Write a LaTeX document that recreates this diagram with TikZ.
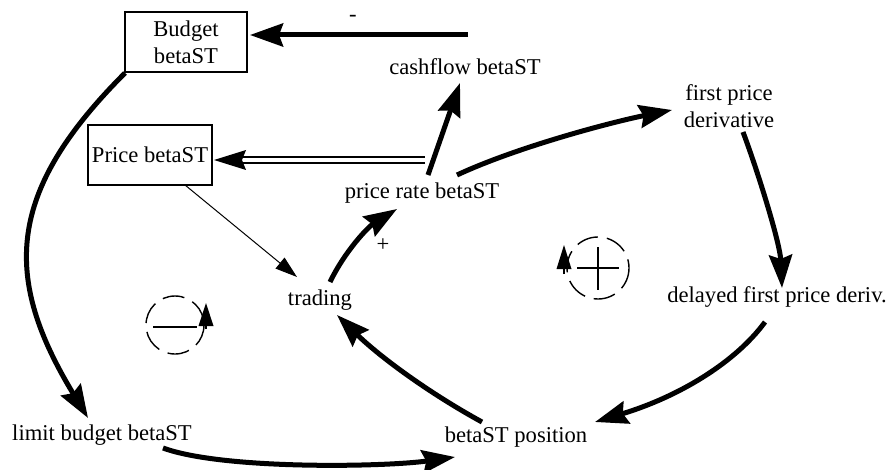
\documentclass[tikz,border=0pt]{standalone}
\usepackage{fontspec}
\setmainfont{Liberation Serif}
\usetikzlibrary{arrows.meta,calc}
\begin{document}
\begin{tikzpicture}[x=1pt,y=-1pt,
  every node/.style={font=\rmfamily\fontsize{22.6}{27}\selectfont, inner sep=0pt},
  stock/.style={draw, line width=1.4pt},
  link/.style={line width=5pt, -{Stealth[length=33pt,width=23pt,inset=4pt]}},
  thinlink/.style={line width=1pt, -{Triangle[length=22pt,width=14pt]}},
  loopline/.style={line width=1.4pt, dash pattern=on 22pt off 9pt},
  loopmark/.style={line width=2.2pt},
  looptip/.style={fill=black}
]
\useasboundingbox (0,0) rectangle (890,470);
\fill[white] (0,0) rectangle (890,470);

% variables
\node (budget) [stock, minimum width=122pt, minimum height=60pt, align=center] at (186,42) {Budget\\betaST};
\node (price) [stock, minimum width=124pt, minimum height=60pt] at (150,155) {Price betaST};
\node (cash) at (465,67) {cashflow betaST};
\node (firstd) [align=center] at (729,106) {first price\\derivative};
\node (rate) at (422,193) {price rate betaST};
\node (trading) at (320,300) {trading};
\node (delayed) at (777,297) {delayed first price deriv.};
\node (position) at (516,437) {betaST position};
\node (limit) at (102,435) {limit budget betaST};

% polarity labels
\node (minus) at (353,18) {-};
\node (plus) at (383,245) {+};

% links
\draw[link] ($(cash)+(3,-32)$) -- ($(budget)+(64,-7)$);
\draw[link] ($(rate)+(6,-18)$) -- ($(cash)+(-5,16)$);
\draw[link] ($(rate)+(35,-18)$) .. controls +(60,-28) and +(-60,12) .. ($(firstd)+(-57,4)$);
\draw[link] ($(firstd)+(14,26)$) .. controls +(15,40) and +(-2,-45) .. ($(delayed)+(5,-9)$);
\draw[link] ($(delayed)+(-12,25)$) .. controls +(-30,41) and +(83,-25) .. ($(position)+(79,-15)$);
\draw[link] ($(position)+(-34,-15)$) .. controls +(-53,-29) and +(43,42) .. ($(trading)+(17,15)$);
\draw[link] ($(trading)+(10,-18)$) .. controls +(15,-31) and +(-29,18) .. ($(rate)+(-25,16)$);
\draw[thinlink] ($(price)+(35,30)$) -- ($(trading)+(-23,-23)$);
\draw[link] ($(budget)+(-61,31)$) .. controls +(-120,120) and +(-85,-140) .. ($(limit)+(-14,-17)$);
\draw[link] ($(limit)+(61,13)$) .. controls +(60,22) and +(-70,10) .. ($(position)+(-61,20)$);

% flow (double line) from price rate to Price
\draw[line width=1.5pt, double, double distance=4.5pt] ($(rate)+(3,-33)$) -- ($(price)+(93,5)$);
\fill ($(price)+(64,5)$) -- ++(32,-10) -- ++(-4,10) -- ++(4,10) -- cycle;

% loop symbols
\coordinate (lneg) at (175,325);
\draw[loopline] (lneg) circle[radius=29];
\draw[loopmark] ($(lneg)+(-22,2)$) -- ($(lneg)+(22,2)$);
\draw[line width=1.4pt] ($(lneg)+(31,4)$) -- ($(lneg)+(31,-8)$);
\fill[looptip] ($(lneg)+(31,-22)$) -- ++(7.5,23) -- ++(-15,0) -- cycle;

\coordinate (lpos) at (598,268);
\draw[loopline] (lpos) circle[radius=31];
\draw[loopmark] ($(lpos)+(-21,0)$) -- ($(lpos)+(21,0)$);
\draw[loopmark] ($(lpos)+(0,-21)$) -- ($(lpos)+(0,22)$);
\draw[line width=1.4pt] ($(lpos)+(-34,6)$) -- ($(lpos)+(-34,-8)$);
\fill[looptip] ($(lpos)+(-34,-23)$) -- ++(7.5,24) -- ++(-15,0) -- cycle;
\end{tikzpicture}
\end{document}
